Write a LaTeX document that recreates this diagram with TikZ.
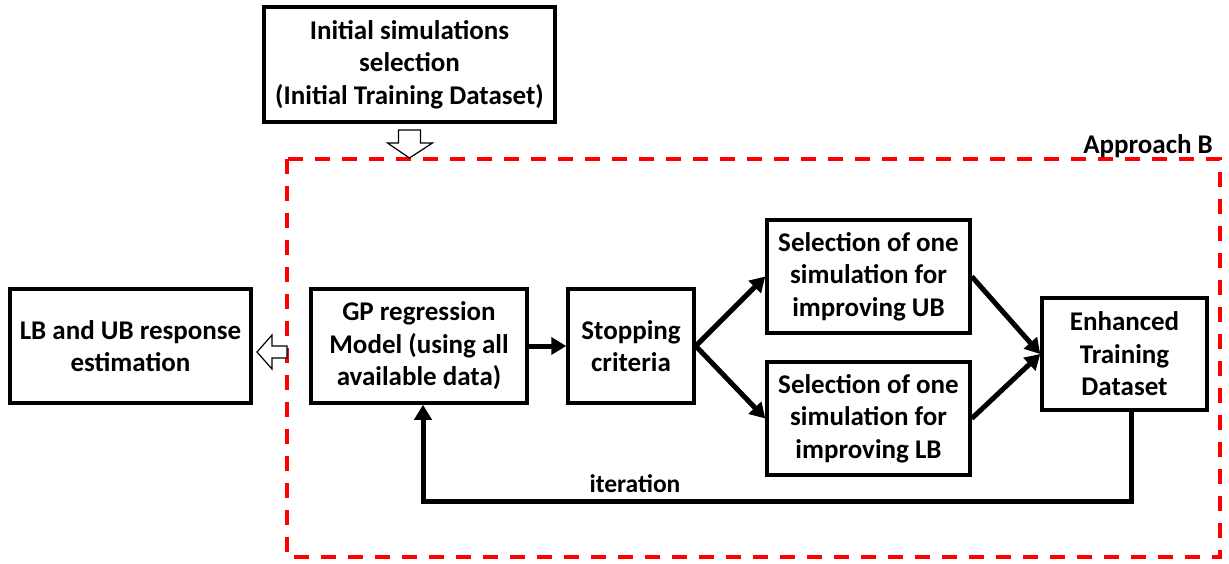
\documentclass[tikz,border=0pt]{standalone}
\usepackage{fontspec}
\setmainfont{Carlito}
\usetikzlibrary{arrows.meta,calc}
\begin{document}
\begin{tikzpicture}[x=1pt,y=-1pt,
  box/.style={draw, line width=3.5pt, align=center, inner sep=0pt,
    font=\bfseries\fontsize{27}{32.5}\selectfont},
  flow/.style={line width=5pt, -{Triangle[length=15pt,width=17pt]}},
  hollow/.style={draw, line width=1.2pt, fill=white, line join=miter},
  lbl/.style={font=\bfseries\fontsize{27}{32.5}\selectfont, inner sep=0pt},
  frame/.style={draw=red, line width=4pt, dash pattern=on 15pt off 12pt}]
\useasboundingbox (0,0) rectangle (1229,563);
% approach frame
\draw[frame] (287,159) rectangle (1220,557);
\node[lbl, anchor=base east] (appB) at (1213,153) {Approach B};
% boxes
\node[box, line width=4pt, minimum width=291, minimum height=115] (init) at (409.5,64.5)
  {Initial simulations\\selection\\(Initial Training Dataset)};
\node[box, minimum width=241, minimum height=114] (lbub) at (130.5,346)
  {LB and UB response\\estimation};
\node[box, minimum width=216, minimum height=114] (gp) at (419,346)
  {GP regression\\Model (using all\\available data)};
\node[box, minimum width=126, minimum height=114] (stop) at (631,346)
  {Stopping\\criteria};
\node[box, minimum width=203, minimum height=113] (ub) at (868.5,276.5)
  {Selection of one\\simulation for\\improving UB};
\node[box, minimum width=203, minimum height=113] (lb) at (868.5,418.5)
  {Selection of one\\simulation for\\improving LB};
\node[box, minimum width=165, minimum height=112] (enh) at (1124.5,354)
  {Enhanced\\Training\\Dataset};
% flows
\draw[flow] (gp.east) -- (stop.west);
\draw[flow] (stop.east) -- (ub.west);
\draw[flow] (stop.east) -- (lb.west);
\draw[flow] (ub.east) -- (enh.west);
\draw[flow] (lb.east) -- (enh.west);
% iteration loop
\coordinate (loopR) at (1131,501);
\coordinate (loopL) at (423,501);
\draw[flow, line join=miter] (enh.south -| loopR) -- (loopR) -- (loopL) -- (gp.south -| loopL);
\node[lbl, font=\bfseries\fontsize{25.5}{30}\selectfont] (iter) at (635,484) {iteration};
% hollow arrows
\draw[hollow] ($(init.south)+(-11,6)$) -- ++(22,0) -- ++(0,13) -- ++(12,0)
  -- ++(-23,15) -- ++(-22,-15) -- ++(11,0) -- cycle;
\coordinate (ltip) at (257,352);
\draw[hollow] (ltip) -- ++(15,-17) -- ++(0,11) -- ++(15,0) -- ++(0,12)
  -- ++(-15,0) -- ++(0,11) -- cycle;
\end{tikzpicture}
\end{document}
